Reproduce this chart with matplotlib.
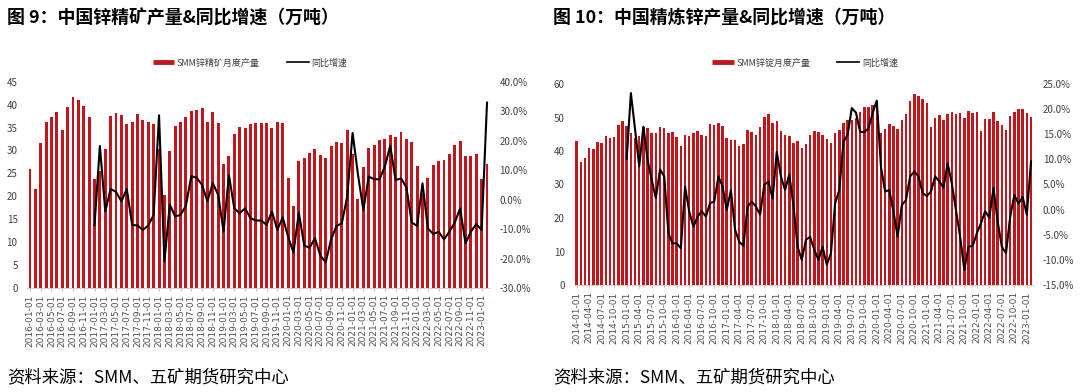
import numpy as np
import pandas as pd
import matplotlib
matplotlib.use('Agg')
import matplotlib.pyplot as plt
from matplotlib.lines import Line2D

plt.rcParams['font.family'] = ['Noto Sans CJK SC', 'DejaVu Sans']

BAR_RED = '#C3161C'
TXT = '#404040'

# 图9 锌精矿 (万吨, 同比 %)
ore_months = pd.date_range('2016-01-01', '2023-02-01', freq='MS')
ore_output = [26.0, 21.6, 31.7, 36.3, 37.3, 38.3, 34.4, 39.5, 41.7, 41.0, 39.8, 37.4,
              23.8, 25.5, 30.3, 37.6, 38.2, 37.7, 35.7, 36.2, 37.9, 36.6, 36.3, 35.7,
              30.4, 20.2, 29.9, 35.3, 36.2, 37.2, 38.5, 38.8, 39.3, 36.3, 38.4, 36.0,
              27.1, 28.9, 33.6, 35.1, 34.8, 35.8, 36.1, 35.9, 35.9, 35.0, 36.3, 35.9,
              23.9, 17.9, 27.7, 28.3, 29.4, 30.3, 29.0, 28.3, 31.0, 31.8, 31.6, 34.5,
              29.2, 19.4, 26.5, 30.5, 31.2, 32.3, 32.6, 33.3, 33.0, 34.1, 32.4, 31.8,
              26.6, 20.5, 23.9, 26.9, 27.8, 27.9, 29.2, 31.1, 32.0, 28.9, 28.9, 29.2,
              23.8, 27.1]
ore_yoy = [None] * 12 + [
    -8.7, 18.2, -4.0, 3.6, 2.6, -0.6, 3.6, -8.6, -8.8, -10.3, -8.8, -5.2,
    28.6, -21.0, -1.7, -5.7, -5.2, -2.1, 8.0, 7.4, 5.0, -0.6, 5.6, 1.6,
    -10.8, 8.3, -3.0, -4.6, -3.0, -6.3, -7.1, -7.1, -8.6, -4.0, -10.3, -6.0,
    -12.6, -18.0, -4.4, -15.6, -16.3, -13.1, -19.0, -21.3, -13.5, -9.0, -8.0, 1.0,
    22.6, 8.5, -3.5, 7.8, 6.9, 6.9, 11.2, 18.3, 6.6, 7.2, 4.2, -7.8,
    -8.9, 5.5, -9.8, -11.7, -10.9, -13.5, -10.9, -7.8, -3.0, -14.8, -10.9, -8.3,
    -10.3, 32.9]

# 图10 精炼锌
zinc_months = pd.date_range('2014-01-01', '2023-02-01', freq='MS')
zinc_output = [43.0, 36.8, 37.8, 40.9, 40.6, 42.7, 42.4, 44.4, 43.8, 44.3, 47.7, 49.1,
               47.4, 45.3, 44.0, 44.6, 47.3, 47.0, 45.3, 45.3, 47.3, 47.0, 45.5, 45.7,
               44.1, 41.6, 44.9, 44.4, 45.5, 46.1, 44.9, 44.6, 48.0, 47.8, 48.4, 47.5,
               43.9, 43.2, 43.2, 41.6, 42.0, 46.3, 45.6, 44.7, 47.3, 50.1, 51.0, 48.4,
               49.1, 46.1, 44.7, 44.6, 42.5, 43.1, 40.9, 42.0, 44.9, 45.9, 45.7, 44.9,
               43.5, 42.3, 45.3, 46.3, 48.3, 49.4, 49.2, 50.0, 51.5, 53.0, 53.0, 53.7,
               53.2, 45.5, 46.7, 48.2, 47.6, 46.7, 49.4, 51.0, 54.9, 56.9, 56.3, 55.4,
               54.2, 47.2, 49.8, 50.7, 49.4, 50.9, 51.5, 50.9, 51.2, 50.0, 52.0, 51.3,
               51.7, 45.9, 49.6, 49.6, 51.5, 48.9, 47.7, 46.4, 50.4, 51.5, 52.6, 52.6,
               51.2, 50.2]
zinc_yoy = [None] * 12 + [
    10.1, 23.2, 16.0, 8.6, 16.5, 9.9, 5.9, 2.3, 8.0, 6.6, -4.7, -6.7,
    -6.7, -7.7, 4.6, -0.4, -3.4, -1.4, -0.3, -1.4, 1.3, 1.6, 6.6, 4.6,
    -0.1, 3.9, -4.0, -6.4, -7.2, 0.6, 1.6, 0.6, -1.0, 4.9, 5.6, 2.2,
    11.5, 6.6, 3.9, 7.0, 0.9, -7.4, -10.0, -6.0, -5.4, -8.0, -10.0, -7.4,
    -11.0, -8.7, 1.2, 3.9, 13.5, 14.9, 20.2, 19.3, 15.5, 15.4, 16.2, 19.2,
    21.7, 8.5, 3.6, 3.9, -0.4, -5.4, 0.9, 1.9, 6.6, 7.6, 6.6, 3.3,
    2.7, 3.6, 6.6, 5.6, 4.4, 9.2, 5.2, -0.1, -5.4, -12.0, -7.4, -7.2,
    -4.7, -2.7, -0.3, -1.6, 4.3, -2.4, -7.4, -8.7, -1.4, 2.9, 1.2, 2.5,
    -1.0, 9.6]

fig = plt.figure(figsize=(10.8, 3.92), dpi=100)


def panel(rect, months, bars, yoy, yticks, y2ticks, step, bar_w):
    ax = fig.add_axes(rect)
    x = np.arange(len(months))
    ax.bar(x, bars, width=bar_w, color=BAR_RED, zorder=2)
    ax.set_xlim(-0.5, len(x) - 0.5)
    ax.set_ylim(yticks[0], yticks[-1])
    ax.set_yticks(yticks)
    ax.set_xticks(x[::step])
    ax.set_xticklabels([d.strftime('%Y-%m-%d') for d in months[::step]],
                       rotation=90, fontsize=6.5, color='#505050', family='DejaVu Sans')
    for s in ['top', 'left', 'right']:
        ax.spines[s].set_visible(False)
    ax.spines['bottom'].set_color('#C8C8C8')
    ax.spines['bottom'].set_linewidth(0.6)
    ax.tick_params(axis='x', length=2.5, color='#C8C8C8', pad=2)
    ax.tick_params(axis='y', length=0, pad=7, labelsize=7, labelcolor=TXT)

    ax2 = ax.twinx()
    vals = np.array([np.nan if v is None else v for v in yoy])
    ax2.plot(x, vals, color='black', lw=1.5, zorder=3)
    ax2.set_ylim(y2ticks[0], y2ticks[-1])
    ax2.set_yticks(y2ticks)
    ax2.set_yticklabels([f'{t:.1f}%' for t in y2ticks])
    for s in ax2.spines.values():
        s.set_visible(False)
    ax2.tick_params(axis='y', length=0, pad=7, labelsize=7, labelcolor=TXT)
    return ax


panel([27.3 / 1080, 1 - 288 / 392, 462.4 / 1080, 206.3 / 392],
      ore_months, ore_output, ore_yoy,
      list(range(0, 46, 5)), list(range(-30, 41, 10)), 2, 0.55)
panel([574.6 / 1080, 1 - 285 / 392, 458.5 / 1080, 201 / 392],
      zinc_months, zinc_output, zinc_yoy,
      list(range(0, 61, 10)), list(range(-15, 26, 5)), 3, 0.6)

fig.text(7 / 1080, 1 - 18 / 392, '图 9：中国锌精矿产量&同比增速（万吨）',
         fontsize=12.9, weight='bold', va='center', ha='left')
fig.text(553 / 1080, 1 - 18 / 392, '图 10：中国精炼锌产量&同比增速（万吨）',
         fontsize=12.9, weight='bold', va='center', ha='left')

for cx, name in [(250, 'SMM锌精矿月度产量'), (805, 'SMM锌锭月度产量')]:
    handles = [Line2D([], [], color=BAR_RED, lw=3.5, solid_capstyle='butt'),
               Line2D([], [], color='black', lw=1.2)]
    fig.legend(handles, [name, '同比增速'], loc='center',
               bbox_to_anchor=(cx / 1080, 1 - 63 / 392), ncol=2, frameon=False,
               fontsize=6.5, handlelength=2.4, columnspacing=3.0, handletextpad=0.3,
               labelcolor=TXT)

fig.text(7 / 1080, 1 - 377 / 392, '资料来源：SMM、五矿期货研究中心',
         fontsize=12.5, va='center', ha='left')
fig.text(553 / 1080, 1 - 377 / 392, '资料来源：SMM、五矿期货研究中心',
         fontsize=12.5, va='center', ha='left')

fig.savefig('out.png', dpi=100)
